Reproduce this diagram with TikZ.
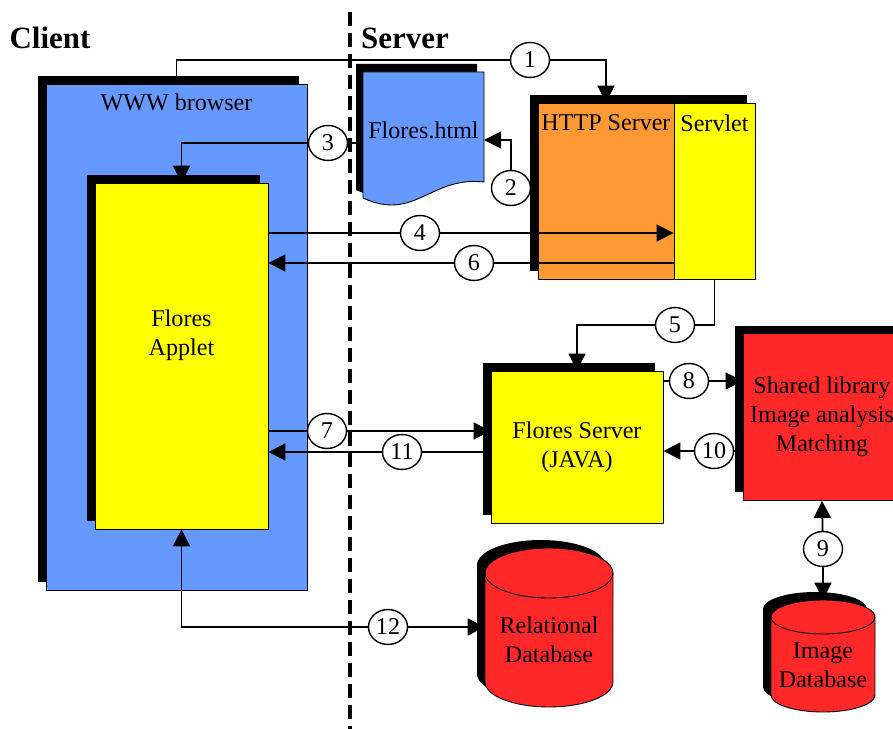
\documentclass[tikz,border=0pt]{standalone}
\usepackage{fontspec}
\setmainfont{Liberation Serif}
\usetikzlibrary{arrows.meta,shapes.geometric,shadows}

\definecolor{browserblue}{RGB}{102,153,255}
\definecolor{appletyellow}{RGB}{255,255,0}
\definecolor{httporange}{RGB}{255,153,51}
\definecolor{dbred}{RGB}{255,40,40}

\tikzset{
  block/.style={draw, line width=0.5pt, inner sep=0pt, align=center},
  shade8/.style={general shadow={fill=black, shadow xshift=-0.16cm, shadow yshift=0.16cm}},
  num/.style={ellipse, draw, fill=white, line width=0.8pt, inner sep=0pt,
    minimum width=0.78cm, minimum height=0.7cm},
  link/.style={line width=1pt},
  dbtext/.style={inner sep=0pt}
}

\begin{document}
\begin{tikzpicture}[x=0.02cm, y=-0.02cm, font=\fontsize{13.7}{16.5}\selectfont,
  >={Triangle[length=0.34cm,width=0.34cm]}]
\useasboundingbox (0,0) rectangle (893,729);
% Client / server border
\draw [line width=0.08cm, dash pattern=on 0.28cm off 0.14cm] (350,12) -- (350,729);
\node [font=\fontsize{17.6}{20}\selectfont\bfseries] (client) at (50,38) {Client};
\node [font=\fontsize{17.6}{20}\selectfont\bfseries] (server) at (405,38) {Server};

% Browser with the applet
\node [block, shade8, fill=browserblue, minimum width=5.22cm, minimum height=10.12cm,
  label={[anchor=north, yshift=-0.08cm]north:WWW browser}] (browser) at (176.5,337) {};
\node [block, shade8, fill=appletyellow, minimum width=3.46cm, minimum height=6.92cm,
  label={[align=center, yshift=0.42cm]center:Flores\\Applet}] (applet) at (181.5,356) {};

% Flores.html page
\fill [black, xshift=-0.14cm, yshift=0.16cm] (363,72) -- (484,72) -- (484,182)
  .. controls (430,176) and (415,222) .. (363,198) -- cycle;
\filldraw [fill=browserblue, line width=0.5pt] (363,72) -- (484,72) -- (484,182)
  .. controls (430,176) and (415,222) .. (363,198) -- cycle;
\node [minimum width=2.42cm, minimum height=2.32cm, inner sep=0pt] (html) at (423.5,130) {Flores.html};

% HTTP server and servlet
\fill [black] (530,95) rectangle (667,271);
\fill [black] (667,95) rectangle (747,103);
\node [block, fill=httporange, minimum width=2.72cm, minimum height=3.52cm,
  label={[anchor=north, yshift=-0.12cm]north:HTTP Server}] (http) at (606,191) {};
\node [block, fill=appletyellow, minimum width=1.62cm, minimum height=3.52cm,
  label={[anchor=north, yshift=-0.12cm]north:Servlet}] (servlet) at (714.5,191) {};

% Flores server and shared library
\node [block, shade8, fill=appletyellow, minimum width=3.44cm, minimum height=3.04cm] (fserver)
  at (577,447) {Flores Server\\(JAVA)};
\node [block, shade8, fill=dbred, minimum width=3.16cm, minimum height=3.34cm] (shlib)
  at (822,417) {Shared library\\Image analysis\\Matching};

% Relational database
\fill [black, xshift=-0.16cm, yshift=0.16cm] (485,573) -- (485,682)
  arc [start angle=180, end angle=360, x radius=1.28cm, y radius=0.5cm] -- (613,573)
  arc [start angle=0, end angle=180, x radius=1.28cm, y radius=0.5cm] -- cycle;
\filldraw [fill=dbred, line width=0.5pt] (485,573) -- (485,682)
  arc [start angle=180, end angle=360, x radius=1.28cm, y radius=0.5cm] -- (613,573)
  arc [start angle=0, end angle=180, x radius=1.28cm, y radius=0.5cm] -- cycle;
\draw [line width=0.5pt] (485,573)
  arc [start angle=180, end angle=360, x radius=1.28cm, y radius=0.5cm];
\node [dbtext, minimum width=2.56cm, minimum height=3.18cm,
  label={[align=center, yshift=-0.25cm]center:Relational\\Database}] (reldb) at (549,627.5) {};

% Image database
\fill [black, xshift=-0.16cm, yshift=0.16cm] (771,617) -- (771,695)
  arc [start angle=180, end angle=360, x radius=1.04cm, y radius=0.34cm] -- (875,617)
  arc [start angle=0, end angle=180, x radius=1.04cm, y radius=0.34cm] -- cycle;
\filldraw [fill=dbred, line width=0.5pt] (771,617) -- (771,695)
  arc [start angle=180, end angle=360, x radius=1.04cm, y radius=0.34cm] -- (875,617)
  arc [start angle=0, end angle=180, x radius=1.04cm, y radius=0.34cm] -- cycle;
\draw [line width=0.5pt] (771,617)
  arc [start angle=180, end angle=360, x radius=1.04cm, y radius=0.34cm];
\node [dbtext, minimum width=2.08cm, minimum height=2.24cm,
  label={[align=center, yshift=-0.18cm]center:Image\\Database}] (imgdb) at (823,656) {};

% Numbered steps
\node [num] (n1) at (530,60) {1};
\node [num] (n2) at (511,188) {2};
\node [num] (n3) at (328,143) {3};
\node [num] (n4) at (420,233) {4};
\node [num] (n5) at (675,325) {5};
\node [num] (n6) at (474,263) {6};
\node [num] (n7) at (327,431) {7};
\node [num] (n8) at (689,381) {8};
\node [num] (n9) at (823,549) {9};
\node [num] (n10) at (714,451) {10};
\node [num] (n11) at (402,452) {11};
\node [num] (n12) at (388,627) {12};

% Connectors
\draw [link, ->] (browser.north) |- (n1) -| (http.north);
\draw [link, ->] (http.west |- n2) -- (n2) |- (484,140);
\draw [link, ->] (html.west |- n3) -- (n3) -| (applet.north);
\draw [link, ->] (applet.east |- n4) -- (n4) -- (servlet.west |- n4);
\draw [link, ->] (servlet.south) |- (n5) -| (fserver.north);
\draw [link, ->] (servlet.west |- n6) -- (n6) -- (applet.east |- n6);
\draw [link, ->] (applet.east |- n7) -- (n7) -- (fserver.west |- n7);
\draw [link, ->] (fserver.east |- n8) -- (n8) -- (shlib.west |- n8);
\draw [link, <-] (shlib.south) -- (n9);
\draw [link, ->] (n9) -- (imgdb.north);
\draw [link, ->] (shlib.west |- n10) -- (n10) -- (fserver.east |- n10);
\draw [link, ->] (fserver.west |- n11) -- (n11) -- (applet.east |- n11);
\draw [link, <-] (applet.south) |- (n12);
\draw [link, ->] (n12) -- (reldb.west |- n12);

\end{tikzpicture}
\end{document}
